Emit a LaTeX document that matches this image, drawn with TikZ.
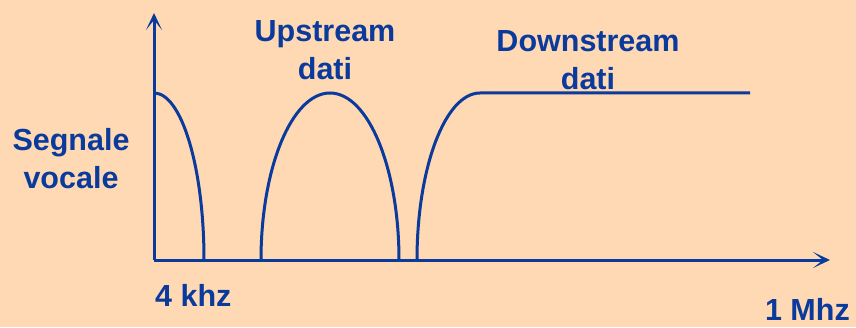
\documentclass[tikz,border=0pt]{standalone}
\usepackage{fontspec}
\setmainfont{Liberation Sans}
\usepackage{tikz}
\usetikzlibrary{arrows.meta,positioning}
\definecolor{SpBlue}{HTML}{0A3A9C}
\definecolor{SpPeach}{HTML}{FED9B4}

\begin{document}
\begin{tikzpicture}[
  x=1pt,y=1pt,
  lbl/.style={inner sep=0pt,text=SpBlue,align=center,font=\fontsize{30.5}{38}\selectfont\bfseries},
  axis/.style={line width=3pt,draw=SpBlue,-{Stealth[length=17pt,width=16pt,inset=10pt]}},
  curve/.style={line width=3pt,draw=SpBlue}
]
\fill[SpPeach] (0,0) rectangle (856,327);
\useasboundingbox (0,0) rectangle (856,327);
% axes
\coordinate (o) at (154,67);
\coordinate (ytip) at (154,314);
\coordinate (xtip) at (830,67);
\draw[axis] (o) -- (ytip);
\draw[axis] (o) -- (xtip);
% spectra
\coordinate (voce) at (154,234);
\coordinate (up) at (261,67);
\coordinate (down) at (417,67);
\coordinate (downend) at (750,234);
\draw[curve] (voce) arc[start angle=90,end angle=0,x radius=50,y radius=167];
\draw[curve] (up) arc[start angle=180,end angle=0,x radius=69,y radius=167];
\draw[curve] (down) arc[start angle=180,end angle=90,x radius=63,y radius=167] -- (downend);
% labels
\node[lbl,anchor=north] (voc) at (71,199) {Segnale\\vocale};
\node[lbl,anchor=north] (ups) at (325,307) {Upstream\\dati};
\node[lbl,anchor=north] (dns) at (588,297) {Downstream\\dati};
\node[lbl,anchor=base west] (khz) at (155,21) {4 khz};
\node[lbl,anchor=base east] (mhz) at (850,7) {1 Mhz};
\end{tikzpicture}
\end{document}
